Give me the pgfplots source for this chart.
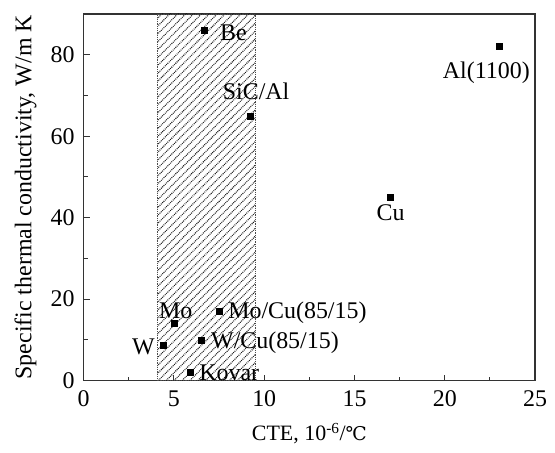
\documentclass[border=0pt]{standalone}
\usepackage{fontspec}
\setmainfont{Liberation Serif}
\newfontfamily\dvs{DejaVu Serif}
\usepackage{pgfplots}
\pgfplotsset{compat=1.18}
\usetikzlibrary{patterns.meta}
\begin{document}
\fontsize{24}{28}\selectfont
\begin{tikzpicture}
\begin{axis}[
  name=ax,
  scale only axis,
  width=453pt, height=368pt,
  xmin=0, xmax=25, ymin=0, ymax=90,
  xtick={0,5,10,15,20,25},
  ytick={0,20,40,60,80},
  minor x tick num=1,
  minor y tick num=1,
  xtick pos=left, ytick pos=left,
  tick align=inside,
  major tick length=6pt,
  minor tick length=4pt,
  axis line style={line width=1.3pt, black!80},
  every tick/.style={line width=1pt, black!80},
  /pgf/number format/assume math mode=true,
  ticklabel style={font=\fontsize{24}{28}\selectfont},
  xticklabel style={yshift=-2pt},
  yticklabel style={xshift=-1pt},
  xlabel={CTE, 10\textsuperscript{-6}/{\dvs\fontsize{19}{24}\selectfont ℃}},
  ylabel={Specific thermal conductivity, W/m K},
  xlabel style={font=\fontsize{22}{26}\selectfont, yshift=0pt},
  ylabel style={font=\fontsize{24}{28}\selectfont, yshift=-2pt},
  clip=false,
]
\addplot [draw=black!70, densely dotted, line width=0.8pt,
  pattern={Lines[angle=45, distance=5.6pt, line width=1.1pt]}, pattern color=black!90]
  coordinates {(4.1,0) (9.5,0) (9.5,90) (4.1,90)} -- cycle;
\addplot [only marks, mark=square*, mark size=3pt, black]
  coordinates {
    (6.7,86) (9.2,65) (23,82) (17,45) (5,14) (7.5,17) (4.4,8.6) (6.5,10) (5.9,2)
  };
\node[anchor=west, inner sep=0pt] at (axis cs:7.55,85.4) {Be};
\node[inner sep=0pt] at (axis cs:9.55,71) {SiC/Al};
\node[inner sep=0pt] at (axis cs:22.3,75.6) {Al(1100)};
\node[inner sep=0pt] at (axis cs:17,41.3) {Cu};
\node[inner sep=0pt] at (axis cs:5.1,17.2) {Mo};
\node[anchor=west, inner sep=0pt] at (axis cs:8.0,16.6) {Mo/Cu(85/15)};
\node[anchor=east, inner sep=0pt] at (axis cs:3.95,8.3) {W};
\node[anchor=west, inner sep=0pt] at (axis cs:7.05,9.4) {W/Cu(85/15)};
\node[anchor=west, inner sep=0pt] at (axis cs:6.4,1.9) {Kovar};
\end{axis}
\path (ax.south west) ++(-84pt,-69pt) rectangle ++(555pt,451pt);
\end{tikzpicture}
\end{document}
